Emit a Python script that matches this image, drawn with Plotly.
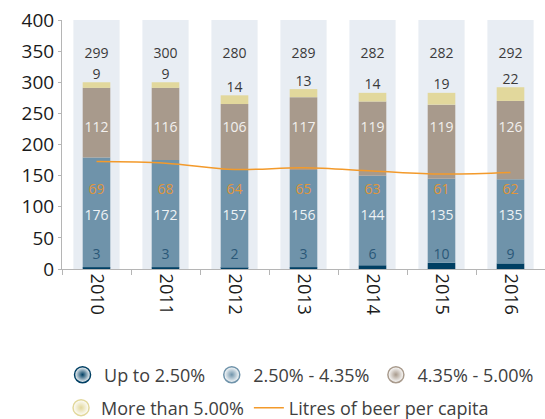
import plotly.graph_objects as go

years = ['2010', '2011', '2012', '2013', '2014', '2015', '2016']
up_to_250 = [3, 3, 2, 3, 6, 10, 9]
from_250_to_435 = [176, 172, 157, 156, 144, 135, 135]
from_435_to_500 = [112, 116, 106, 117, 119, 119, 126]
more_than_500 = [9, 9, 14, 13, 14, 19, 22]
totals = [299, 300, 280, 289, 282, 282, 292]
litres_per_capita = [69, 68, 64, 65, 63, 61, 62]

series_names = ['Up to 2.50%', '2.50% - 4.35%', '4.35% - 5.00%', 'More than 5.00%']
series_vals = [up_to_250, from_250_to_435, from_435_to_500, more_than_500]
colors = ['#003f63', '#6f93aa', '#a89a8c', '#e2d89c']
line_color = '#f39a2b'
FONT = 'Open Sans'
Y_MAX = 400

fig = go.Figure()

# background columns
fig.add_trace(go.Bar(x=years, y=[Y_MAX] * len(years), width=0.67,
                     marker=dict(color='#e8edf3', line=dict(width=0)),
                     showlegend=False, hoverinfo='skip'))

base = [0] * len(years)
for name, vals, col in zip(series_names, series_vals, colors):
    fig.add_trace(go.Bar(x=years, y=vals, base=list(base), width=0.4, name=name,
                         marker=dict(color=col, line=dict(width=0)),
                         showlegend=False))
    base = [b + v for b, v in zip(base, vals)]

# labels at fixed heights
def label_row(level, values, color):
    fig.add_trace(go.Scatter(x=years, y=[level] * len(years), mode='text',
                             text=[str(v) for v in values],
                             textfont=dict(family=FONT, size=14, color=color),
                             showlegend=False, hoverinfo='skip'))

label_row(345, totals, '#3a3a3a')
label_row(225, from_435_to_500, '#f2f0ee')
label_row(126, litres_per_capita, '#e0963a')
label_row(84, from_250_to_435, '#eef2f5')
label_row(22, up_to_250, '#2a5878')

# yellow labels just above stack
fig.add_trace(go.Scatter(x=years, y=base, mode='text', text=[str(v) for v in more_than_500],
                         textposition='top center',
                         textfont=dict(family=FONT, size=14, color='#3a3a3a'),
                         showlegend=False, hoverinfo='skip'))

# line on secondary axis
fig.add_trace(go.Scatter(x=years, y=litres_per_capita, mode='lines', yaxis='y2',
                         line=dict(color=line_color, width=1.5, shape='spline'),
                         showlegend=False))

# legend entries
for i, (name, col) in enumerate(zip(series_names, colors)):
    fig.add_trace(go.Scatter(x=[None], y=[None], mode='markers', name=name,
                             legend='legend' if i < 3 else 'legend2',
                             marker=dict(symbol='circle', size=16, color='white',
                                         gradient=dict(type='radial', color=col),
                                         line=dict(color=col, width=1.5))))
fig.add_trace(go.Scatter(x=[None], y=[None], mode='lines', name='Litres of beer per capita',
                         legend='legend2', line=dict(color=line_color, width=1.5)))

legend_common = dict(orientation='h', xref='container', yref='container',
                     x=0.112, xanchor='left', yanchor='middle',
                     font=dict(family=FONT, size=18, color='#404040'),
                     traceorder='normal', bgcolor='rgba(0,0,0,0)')

fig.update_layout(
    width=545, height=419,
    margin=dict(l=62, r=0, t=20, b=150, autoexpand=False),
    barmode='overlay',
    plot_bgcolor='white', paper_bgcolor='white',
    font=dict(family=FONT, color='#222'),
    xaxis=dict(type='category', range=[-0.5, 6.5], showline=True, linecolor='#b5b5b5',
               ticks='outside', tickson='boundaries', ticklen=5, tickcolor='#b5b5b5',
               tickangle=90, tickfont=dict(family=FONT, size=18, color='#1a1a1a'),
               showgrid=False, automargin=False),
    yaxis=dict(range=[0, Y_MAX], dtick=50, showline=True, linecolor='#b5b5b5',
               ticks='outside', ticklen=3, tickcolor='#b5b5b5', showgrid=False,
               zeroline=False, automargin=False,
               tickfont=dict(family=FONT, size=19, color='#1a1a1a')),
    yaxis2=dict(range=[0, 160], overlaying='y', side='right', visible=False),
    legend=dict(legend_common, y=0.105, itemwidth=33),
    legend2=dict(legend_common, y=0.0263, itemwidth=30),
    showlegend=True,
)

fig.write_html('out.html', config={'displayModeBar': False},
               post_script="document.body.style.margin='0';")
